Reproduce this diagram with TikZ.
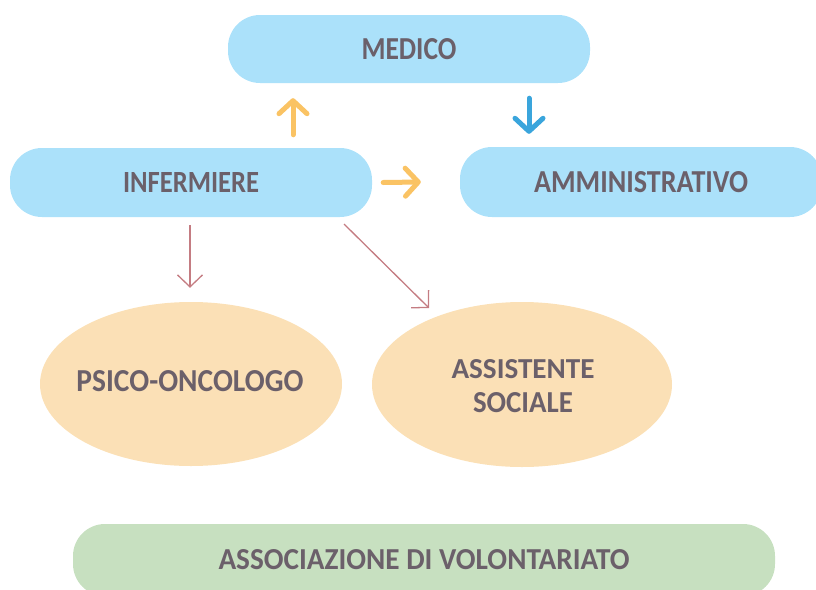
\documentclass[tikz,border=0pt]{standalone}
\usepackage{fontspec}
\setmainfont{Carlito}
\usetikzlibrary{shapes.geometric,arrows.meta}
\definecolor{boxblue}{RGB}{171,225,250}
\definecolor{peach}{RGB}{251,224,182}
\definecolor{sage}{RGB}{199,224,192}
\definecolor{txt}{RGB}{107,96,106}
\definecolor{orarr}{RGB}{250,195,100}
\definecolor{bluarr}{RGB}{58,165,220}
\definecolor{redarr}{RGB}{196,124,130}
\newcommand\lbl[3]{\resizebox{#1}{#2}{\bfseries #3}}
\tikzset{
  pill/.style={rectangle, rounded corners=32pt, inner sep=0pt, fill=#1, text=txt,
    font=\fontsize{30}{34}\selectfont},
  oval/.style={ellipse, inner sep=0pt, fill=peach},
  ovaltext/.style={inner sep=0pt, text=txt, align=center,
    font=\fontsize{30}{34}\selectfont},
  fatarrow/.style={draw=#1, line width=5pt, line cap=round,
    -{Straight Barb[length=13pt, width=28pt, line cap=round, line join=round]}},
  thinarrow/.style={draw=redarr, line width=1.3pt,
    -{Straight Barb[length=12pt, width=25pt]}}
}
\begin{document}
\begin{tikzpicture}[x=1pt,y=-1pt]
\useasboundingbox (0,0) rectangle (816,589);
\clip (0,0) rectangle (816,589);
\node[pill=boxblue, minimum width=362pt, minimum height=68pt] (med) at (409,49)
  {\lbl{95pt}{21pt}{MEDICO}};
\node[pill=boxblue, minimum width=362pt, minimum height=69pt] (inf) at (191,182.5)
  {\lbl{136pt}{20pt}{INFERMIERE}};
\node[pill=boxblue, minimum width=362pt, minimum height=70pt] (amm) at (641,182)
  {\lbl{214pt}{21pt}{AMMINISTRATIVO}};
\node[oval, minimum width=302pt, minimum height=164pt] (psi) at (191,384) {};
\node[ovaltext] (psit) at (190,381) {\lbl{227pt}{21pt}{PSICO-ONCOLOGO}};
\node[oval, minimum width=300pt, minimum height=165pt] (ass) at (522,384.5) {};
\node[ovaltext] (asst) at (523,386)
  {\lbl{143pt}{19pt}{ASSISTENTE}\\\lbl{100pt}{20pt}{SOCIALE}};
\node[pill=sage, minimum width=702pt, minimum height=72pt] (vol) at (424,560)
  {\lbl{411pt}{20pt}{ASSOCIAZIONE DI VOLONTARIATO}};
% thick arrows
\draw[fatarrow=orarr] ([shift={(102,-13)}]inf.north) -- ([shift={(-116,15)}]med.south);
\draw[fatarrow=bluarr] ([shift={(120,15)}]med.south) -- ([shift={(-112,-13)}]amm.north);
\draw[fatarrow=orarr] ([shift={(11,0)}]inf.east) -- ([shift={(-39,0)}]amm.west);
% thin arrows
\draw[thinarrow] ([shift={(-1,8)}]inf.south) -- ([shift={(-1,-14)}]psi.north);
\coordinate (d1) at (344,224);
\coordinate (d2) at (429,308);
\draw[thinarrow] (d1) -- (d2);
\end{tikzpicture}
\end{document}
